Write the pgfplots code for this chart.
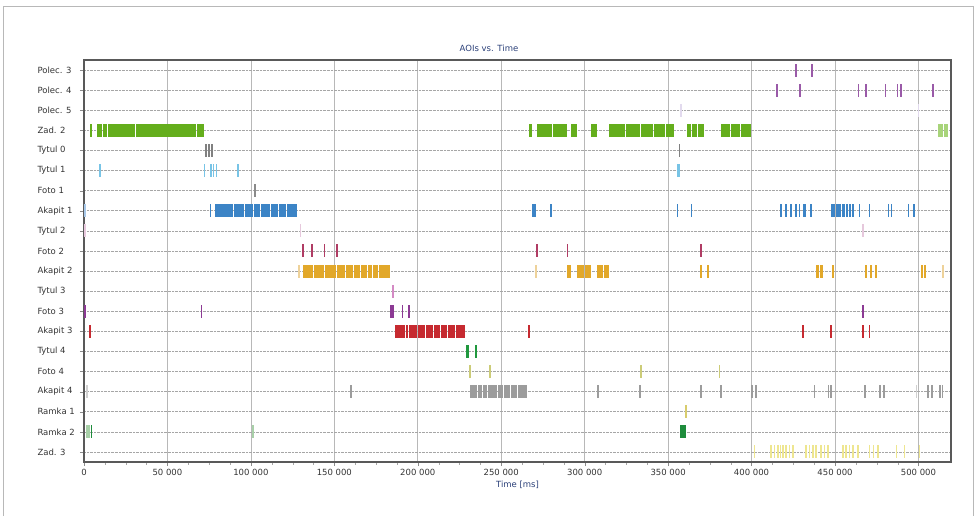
\documentclass[border=0pt]{standalone}
\usepackage{pgfplots}
\pgfplotsset{compat=1.18}
\usepackage{fontspec}
\setmainfont{DejaVu Sans}
\definecolor{cTitle}{HTML}{2A3F78}
\definecolor{cPol}{HTML}{9A5AA8}
\definecolor{cPolL}{HTML}{E2DAEE}
\definecolor{cZad}{HTML}{64AE1C}
\definecolor{cZadL}{HTML}{A8D47A}
\definecolor{cTy0}{HTML}{808080}
\definecolor{cTy1}{HTML}{78C4E6}
\definecolor{cFo1}{HTML}{8A8A8A}
\definecolor{cAk1}{HTML}{3C84C6}
\definecolor{cAk1L}{HTML}{A8C8E8}
\definecolor{cTy2}{HTML}{E6C8DC}
\definecolor{cFo2}{HTML}{B03C64}
\definecolor{cAk2}{HTML}{E2A82A}
\definecolor{cAk2L}{HTML}{EED29A}
\definecolor{cTy3}{HTML}{D48AC4}
\definecolor{cFo3}{HTML}{8C3A94}
\definecolor{cAk3}{HTML}{C62A30}
\definecolor{cTy4}{HTML}{20983E}
\definecolor{cFo4}{HTML}{CCCC78}
\definecolor{cAk4}{HTML}{9C9C9C}
\definecolor{cAk4L}{HTML}{D0D0D0}
\definecolor{cRa1}{HTML}{D8CC6C}
\definecolor{cRa2}{HTML}{1E8C3C}
\definecolor{cRa2L}{HTML}{A8D0A8}
\definecolor{cZa3}{HTML}{EEE690}
\pgfplotsset{
  fix/.style={mark=none, draw=none, forget plot,
    error bars/.cd, x dir=both, x explicit, error mark=none,
    error bar style={line width=13bp, draw=#1, line cap=butt}},
  table/seg/.style={x expr={(\thisrow{s}+\thisrow{e})/2}, y=r,
    x error expr={max((\thisrow{e}-\thisrow{s})/2,350)}},
}
\begin{document}
\begin{tikzpicture}
\path (0,0) rectangle (977bp,516bp);
\draw[black!28, line width=0.9bp] (3.5bp,0) -- (3.5bp,509.5bp) -- (973.5bp,509.5bp) -- (973.5bp,0);
\node[text=cTitle, font=\fontsize{8.5bp}{10bp}\selectfont] at (489bp,468bp) {AOIs vs. Time};
\begin{axis}[
  at={(84bp,54bp)}, anchor=south west,
  scale only axis, width=867bp, height=402bp,
  xmin=0, xmax=519500, ymin=-0.5, ymax=19.5, y dir=reverse,
  xtick={0,50000,...,500000}, minor x tick num=3,
  scaled x ticks=false,
  ytick={0,...,19},
  yticklabels={Polec. 3,Polec. 4,Polec. 5,Zad. 2,Tytul 0,Tytul 1,Foto 1,Akapit 1,Tytul 2,Foto 2,Akapit 2,Tytul 3,Foto 3,Akapit 3,Tytul 4,Foto 4,Akapit 4,Ramka 1,Ramka 2,Zad. 3},
  tick align=outside, tick pos=left,
  major tick length=4bp, minor tick length=2.5bp,
  major tick style={black!45}, minor tick style={black!35},
  xmajorgrids, ymajorgrids,
  x grid style={black!28, line width=0.6bp},
  y grid style={black!35, densely dotted, line width=0.6bp},
  axis line style={black!65, line width=1.3bp},
  tick label style={font=\fontsize{8.5bp}{10bp}\selectfont, text=black!80},
  yticklabel style={anchor=west, xshift=-46bp},
  xticklabel style={/pgf/number format/.cd, fixed, 1000 sep={\ }, assume math mode=true},
  xlabel={Time [ms]},
  xlabel style={font=\fontsize{8.5bp}{10bp}\selectfont, text=cTitle, yshift=1.5bp},
]
% Polec. 3 / Polec. 4
\addplot[fix=cPol] table[seg] {
s e r
426000 427400 0
436200 436200 0
415000 415000 1
428600 429800 1
464000 464000 1
468600 468600 1
480000 480000 1
487000 487600 1
489000 489600 1
508600 508600 1
};
\addplot[fix=cPolL] table[seg] {
s e r
357600 357600 2
500000 500000 2
};
% Zad. 2
\addplot[fix=cZad] table[seg] {
s e r
4200 4200 3
8000 10600 3
11600 13700 3
14300 30300 3
30900 67300 3
67900 72000 3
266600 268600 3
271600 280300 3
280900 289600 3
292000 295200 3
303600 307200 3
314600 324000 3
324600 333300 3
333900 341000 3
341600 348300 3
348900 353400 3
361200 363900 3
364500 367300 3
367900 371400 3
381600 387300 3
387900 393300 3
393900 399600 3
};
\addplot[fix=cZadL] table[seg] {
s e r
511800 514600 3
515200 517800 3
};
% Tytul 0
\addplot[fix=cTy0] table[seg] {
s e r
72600 73400 4
74200 75000 4
76200 77000 4
356600 356600 4
};
% Tytul 1
\addplot[fix=cTy1] table[seg] {
s e r
9600 9600 5
72200 72200 5
75600 76200 5
77200 77800 5
78800 79600 5
92000 92600 5
355600 357400 5
};
% Foto 1
\addplot[fix=cFo1] table[seg] {
s e r
102200 102200 6
};
% Akapit 1
\addplot[fix=cAk1L] table[seg] {
s e r
0 800 7
};
\addplot[fix=cAk1] table[seg] {
s e r
75600 75600 7
78600 89300 7
89900 96000 7
96600 101300 7
101900 105300 7
105900 111300 7
111900 116000 7
116600 121300 7
121900 127600 7
268600 270600 7
279600 279600 7
355600 355600 7
364000 364000 7
417600 417600 7
420600 420600 7
423600 423600 7
426000 427000 7
428600 428600 7
431000 432400 7
435600 435600 7
447600 450000 7
450600 453600 7
454200 456000 7
456600 457400 7
458400 459400 7
460600 460600 7
464600 464600 7
470600 470600 7
481600 482400 7
483400 484000 7
493600 494400 7
496800 497600 7
};
% Tytul 2
\addplot[fix=cTy2] table[seg] {
s e r
600 600 8
129600 129600 8
466600 466600 8
};
% Foto 2
\addplot[fix=cFo2] table[seg] {
s e r
131200 131200 9
136600 136600 9
144000 144000 9
151600 151600 9
271200 271200 9
289600 289600 9
369600 369600 9
};
% Akapit 2
\addplot[fix=cAk2L] table[seg] {
s e r
128600 128600 10
270600 270600 10
514600 514600 10
};
\addplot[fix=cAk2] table[seg] {
s e r
131200 137400 10
137800 144000 10
144400 151200 10
151600 156600 10
157000 161400 10
161800 165600 10
166000 169600 10
170000 172800 10
173200 176200 10
176600 179600 10
180000 183600 10
289600 291600 10
295600 299400 10
300000 303600 10
307600 310800 10
311400 314600 10
369600 369600 10
373600 373600 10
438600 440400 10
441000 442600 10
448600 448600 10
468600 468600 10
471600 471600 10
474600 474600 10
501600 502600 10
503600 504600 10
};
% Tytul 3
\addplot[fix=cTy3] table[seg] {
s e r
184600 186000 11
};
% Foto 3
\addplot[fix=cFo3] table[seg] {
s e r
600 600 12
70200 70200 12
183600 185600 12
190600 190600 12
194600 194600 12
466600 466600 12
};
% Akapit 3
\addplot[fix=cAk3] table[seg] {
s e r
3600 3600 13
186600 192300 13
192900 194300 13
194900 199300 13
199900 204300 13
204900 209300 13
209900 213300 13
213900 217300 13
217900 222300 13
222900 228000 13
266600 266600 13
430600 430600 13
447600 447600 13
466600 466600 13
470600 470600 13
};
% Tytul 4
\addplot[fix=cTy4] table[seg] {
s e r
228600 230600 14
234600 234600 14
};
% Foto 4
\addplot[fix=cFo4] table[seg] {
s e r
231200 231200 15
243000 243000 15
333600 333600 15
380600 380600 15
};
% Akapit 4
\addplot[fix=cAk4L] table[seg] {
s e r
1600 1600 16
498600 498600 16
};
\addplot[fix=cAk4] table[seg] {
s e r
160000 160000 16
231200 235300 16
235900 238300 16
238900 241300 16
241900 247300 16
247900 251300 16
251900 255300 16
255900 259300 16
259900 265200 16
308000 308000 16
332600 333600 16
369600 369600 16
381600 381600 16
400000 400000 16
402600 402600 16
437600 437600 16
445600 446400 16
447000 447600 16
467600 468600 16
476600 477400 16
478600 479600 16
505600 505600 16
507800 508600 16
512600 513400 16
514000 514600 16
};
% Ramka 1
\addplot[fix=cRa1] table[seg] {
s e r
360600 360600 17
};
% Ramka 2
\addplot[fix=cRa2L] table[seg] {
s e r
1600 1600 18
3000 3000 18
101000 101000 18
};
\addplot[fix=cRa2] table[seg] {
s e r
4000 4800 18
357000 360600 18
};
% Zad. 3
\addplot[fix=cZa3] table[seg] {
s e r
401600 401600 19
411600 411600 19
413600 413600 19
415600 415600 19
417200 417200 19
418600 418600 19
420600 420600 19
422600 422600 19
424600 424600 19
432600 432600 19
434600 434600 19
436600 436600 19
438600 438600 19
441600 441600 19
443600 443600 19
445600 445600 19
454600 454600 19
456600 456600 19
458600 458600 19
460600 460600 19
463600 463600 19
470600 470600 19
473000 473000 19
475600 475600 19
486600 486600 19
491600 491600 19
500600 500600 19
};
\end{axis}
\end{tikzpicture}
\end{document}
